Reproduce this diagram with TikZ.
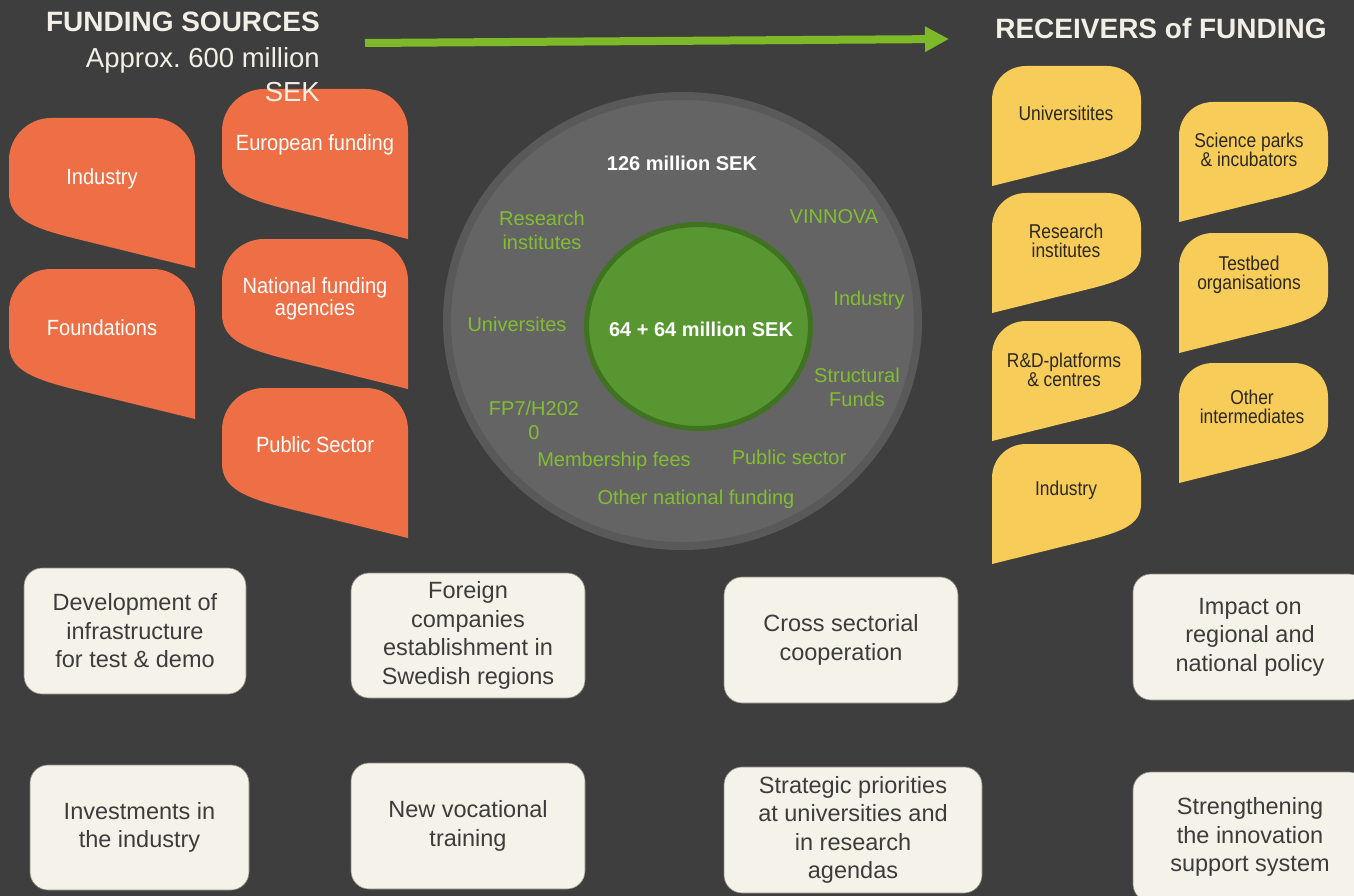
\documentclass[tikz,border=0pt]{standalone}
\usepackage{fontspec}
\setmainfont{Liberation Sans}
\newfontfamily\condf{Liberation Sans}[FakeStretch=0.91]
\newfontfamily\ycondf{Liberation Sans}[FakeStretch=0.87]
\usetikzlibrary{arrows.meta,shapes.geometric}
\frenchspacing
\definecolor{bgc}{HTML}{3E3E3E}
\definecolor{orangec}{HTML}{EE6F45}
\definecolor{yellowc}{HTML}{F8CC58}
\definecolor{ytextc}{HTML}{2B2820}
\definecolor{headc}{HTML}{F2F0E6}
\definecolor{circc}{HTML}{646464}
\definecolor{ringc}{HTML}{595959}
\definecolor{innerc}{HTML}{589632}
\definecolor{inneredge}{HTML}{3F7320}
\definecolor{greentext}{HTML}{82BE32}
\definecolor{arrowc}{HTML}{7DB928}
\definecolor{boxc}{HTML}{F5F3E9}
\definecolor{boxedge}{HTML}{8C8A80}
\definecolor{boxtext}{HTML}{3C3C3C}
\tikzset{
  oleaf/.pic={\fill[orangec] (0,42) .. controls (0,19) and (19,0) .. (42,0) -- (144,0) .. controls (167,0) and (186,19) .. (186,42) -- (186,150) -- (60,119) .. controls (22,109) and (0,100) .. (0,75) -- cycle;},
  yleaf/.pic={\fill[yellowc] (149,34) .. controls (149,15) and (134,0) .. (115,0) -- (34,0) .. controls (15,0) and (0,15) .. (0,34) -- (0,120) -- (101,95) .. controls (131,87) and (149,80) .. (149,60) -- cycle;},
}
\begin{document}
\begin{tikzpicture}[x=1pt,y=-1pt,
  hdr/.style={text=headc, inner sep=0, font=\bfseries\fontsize{28}{32}\selectfont},
  sub/.style={text=headc, inner sep=0, align=right, font=\fontsize{27.5}{34}\selectfont},
  otext/.style={text=white, inner sep=0, align=center, font=\condf\fontsize{22}{22}\selectfont},
  ytext/.style={text=ytextc, inner sep=0, align=center, font=\ycondf\fontsize{20}{19}\selectfont},
  gtext/.style={text=greentext, inner sep=0, align=center, font=\fontsize{20}{24}\selectfont},
  wbold/.style={text=white, inner sep=0, font=\bfseries\fontsize{20}{24}\selectfont},
  resbox/.style={fill=boxc, draw=boxedge, line width=0.6pt, rounded corners=18pt, inner sep=0, align=center, text=boxtext, font=\fontsize{23.5}{28.5}\selectfont},
]
\fill[bgc] (0,0) rectangle (1354,896);
\useasboundingbox (0,0) rectangle (1354,896);

% orange funding sources
\pic at (9,118) {oleaf};
\pic at (9,269) {oleaf};
\pic at (222,89) {oleaf};
\pic at (222,239) {oleaf};
\pic at (222,388) {oleaf};
\node[otext] (o1) at (102,179) {Industry};
\node[otext] (o2) at (102,328) {Foundations};
\node[otext] (o3) at (315,145) {European funding};
\node[otext] (o4) at (315,299) {National funding\\agencies};
\node[otext] (o5) at (315,445) {Public Sector};

% headers
\node[hdr, anchor=east] (fs) at (320,22) {FUNDING SOURCES};
\node[sub, anchor=east] (approx) at (320,75) {Approx. 600 million\\SEK};
\node[hdr] (rf) at (1161,28) {RECEIVERS of FUNDING};
\coordinate (as) at (365,43);
\coordinate (ae) at (949,39);
\draw[arrowc, line width=8pt, -{Triangle[length=24pt,width=24pt]}] (as) -- (ae);

% yellow receivers
\pic at (992,66) {yleaf};
\pic at (992,193) {yleaf};
\pic at (992,321) {yleaf};
\pic at (992,444) {yleaf};
\pic at (1179,102) {yleaf};
\pic at (1179,233) {yleaf};
\pic at (1179,363) {yleaf};
\node[ytext] (y1) at (1066,113) {Universitites};
\node[ytext] (y2) at (1066,241) {Research\\institutes};
\node[ytext] (y3) at (1064,370) {R\&D-platforms\\\& centres};
\node[ytext] (y4) at (1066,490) {Industry};
\node[ytext] (y5) at (1249,150) {Science parks\\\& incubators};
\node[ytext] (y6) at (1249,275) {Testbed\\organisations};
\node[ytext] (y7) at (1252,407) {Other\\intermediates};

% circles
\node[ellipse, fill=circc, draw=ringc, line width=8pt, inner sep=0, minimum width=471pt, minimum height=450pt] (outer) at (682.5,321) {};
\node[ellipse, fill=innerc, draw=inneredge, line width=5pt, inner sep=0, minimum width=224pt, minimum height=204pt] (inner) at (698.5,326.5) {};
\node[wbold] (t126) at (682,163) {126 million SEK};
\node[wbold] (t64) at (701,329) {64 + 64 million SEK};
\node[gtext] (g1) at (542,230) {Research\\institutes};
\node[gtext] (g2) at (834,217) {VINNOVA};
\node[gtext] (g3) at (869,300) {Industry};
\node[gtext] (g4) at (517,324) {Universites};
\node[gtext] (g5) at (857,387) {Structural\\Funds};
\node[gtext] (g6) at (534,420) {FP7/H202\\0};
\node[gtext] (g7) at (614,461) {Membership fees};
\node[gtext] (g8) at (789,457) {Public sector};
\node[gtext] (g9) at (696,499) {Other national funding};

% result boxes
\node[resbox, minimum width=222pt, minimum height=126pt] (b1) at (135,631) {Development of\\infrastructure\\for test \& demo};
\node[resbox, minimum width=234pt, minimum height=125pt] (b2) at (468,635.5) {Foreign\\companies\\establishment in\\Swedish regions};
\node[resbox, minimum width=219pt, minimum height=125pt] (b3) at (139.5,827.5) {Investments in\\the industry};
\node[resbox, minimum width=234pt, minimum height=126pt] (b4) at (468,826) {New vocational\\training};
\node[resbox, minimum width=234pt, minimum height=126pt] (b5) at (841,640) {Cross sectorial\\cooperation};
\node[resbox, minimum width=234pt, minimum height=126pt] (b6) at (1250,637) {Impact on\\regional and\\national policy};
\node[resbox, minimum width=258pt, minimum height=126pt] (b7) at (853,830) {Strategic priorities\\at universities and\\in research\\agendas};
\node[resbox, minimum width=234pt, minimum height=130pt] (b8) at (1250,837) {Strengthening\\the innovation\\support system};
\end{tikzpicture}
\end{document}
